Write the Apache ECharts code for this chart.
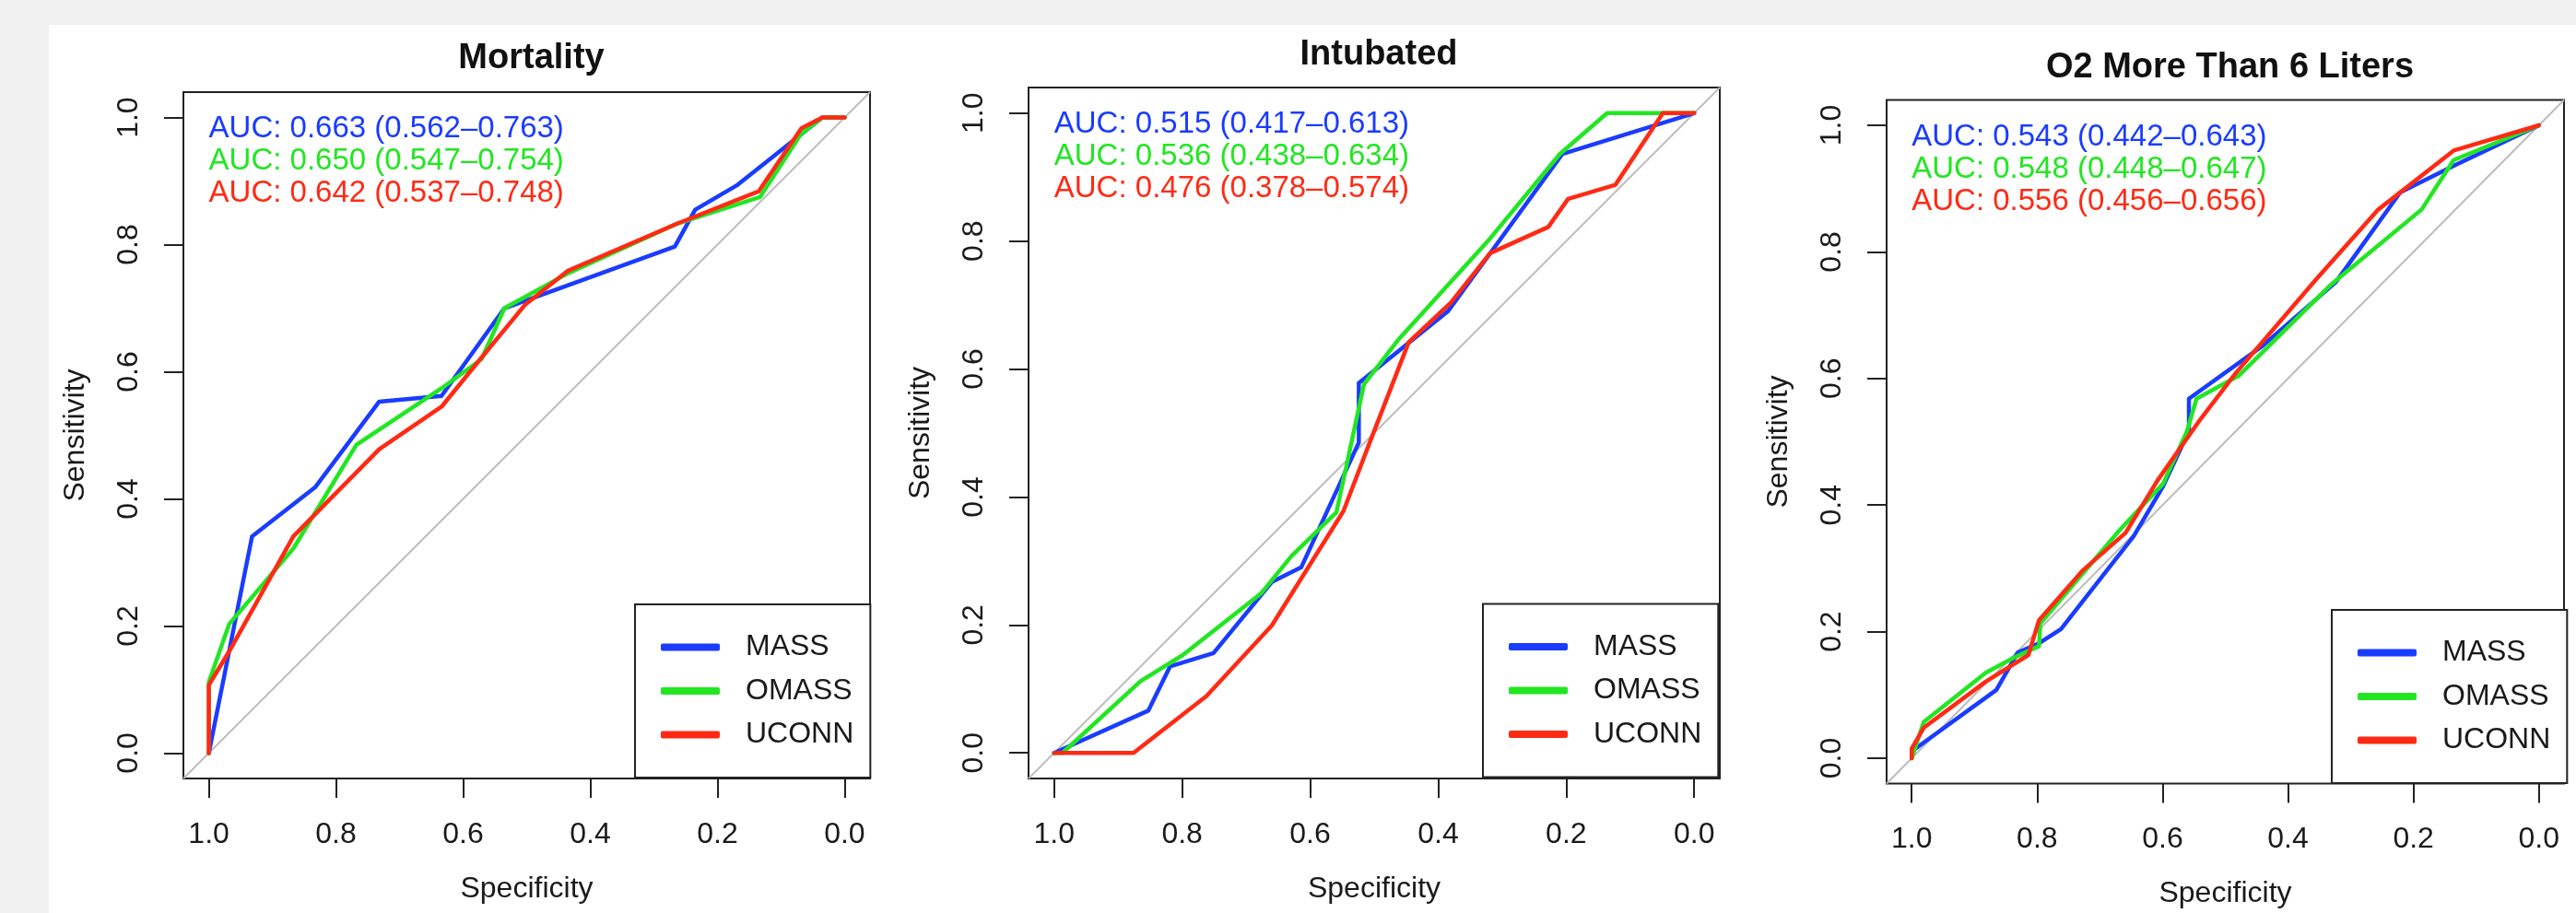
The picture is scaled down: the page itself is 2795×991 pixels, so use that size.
<!DOCTYPE html>
<html>
<head>
<meta charset="utf-8">
<script src="https://cdn.jsdelivr.net/npm/echarts@6/dist/echarts.min.js"></script>
<style>
html,body{margin:0;padding:0;background:#f0f0f0;overflow:hidden;width:2795px;height:991px;}
#panel{position:absolute;left:53px;top:27px;width:2742px;height:964px;background:#ffffff;}
#chart{position:absolute;left:0;top:0;width:2795px;height:991px;}
</style>
</head>
<body>
<div id="panel"></div>
<div id="chart"></div>
<script>
// ---------------- DATA ----------------
const specTicks = [0, 0.2, 0.4, 0.6, 0.8, 1.0];
const sensTicks = [0, 0.2, 0.4, 0.6, 0.8, 1.0];
const seriesNames = ['MASS', 'OMASS', 'UCONN'];
const panelTitles = ['Mortality', 'Intubated', 'O2 More Than 6 Liters'];
const xAxisTitle = 'Specificity';
const yAxisTitle = 'Sensitivity';

const aucMortality = ['AUC: 0.663 (0.562\u20130.763)', 'AUC: 0.650 (0.547\u20130.754)', 'AUC: 0.642 (0.537\u20130.748)'];
const aucIntubated = ['AUC: 0.515 (0.417\u20130.613)', 'AUC: 0.536 (0.438\u20130.634)', 'AUC: 0.476 (0.378\u20130.574)'];
const aucO2 = ['AUC: 0.543 (0.442\u20130.643)', 'AUC: 0.548 (0.448\u20130.647)', 'AUC: 0.556 (0.456\u20130.656)'];

// [specificity, sensitivity]
const mortalityMASS = [[1,0],[0.932,0.341],[0.833,0.418],[0.732,0.553],[0.634,0.562],[0.535,0.700],[0.267,0.797],[0.235,0.855],[0.170,0.893],[0.035,1],[0,1]];
const mortalityOMASS = [[1,0],[1,0.112],[0.968,0.203],[0.867,0.322],[0.768,0.485],[0.634,0.574],[0.571,0.620],[0.535,0.700],[0.435,0.755],[0.266,0.832],[0.133,0.875],[0.068,0.975],[0.035,1],[0,1]];
const mortalityUCONN = [[1,0],[1,0.107],[0.968,0.160],[0.867,0.341],[0.732,0.478],[0.634,0.545],[0.573,0.620],[0.503,0.705],[0.435,0.759],[0.266,0.832],[0.135,0.884],[0.068,0.983],[0.035,1],[0,1]];

const intubatedMASS = [[1,0],[0.853,0.066],[0.819,0.135],[0.751,0.156],[0.660,0.267],[0.614,0.290],[0.524,0.485],[0.524,0.578],[0.385,0.690],[0.206,0.936],[0,1]];
const intubatedOMASS = [[1,0],[0.987,0],[0.865,0.112],[0.799,0.153],[0.677,0.249],[0.629,0.308],[0.559,0.376],[0.516,0.576],[0.463,0.645],[0.319,0.804],[0.210,0.936],[0.136,1],[0,1]];
const intubatedUCONN = [[1,0],[0.876,0],[0.762,0.089],[0.660,0.199],[0.548,0.378],[0.507,0.485],[0.446,0.642],[0.380,0.704],[0.319,0.781],[0.228,0.822],[0.197,0.866],[0.123,0.888],[0.049,1],[0,1]];

const o2MASS = [[1,0],[1,0.011],[0.865,0.108],[0.831,0.167],[0.798,0.181],[0.762,0.204],[0.646,0.351],[0.599,0.430],[0.558,0.517],[0.558,0.568],[0.440,0.652],[0.324,0.752],[0.221,0.894],[0.136,0.936],[0,1]];
const o2OMASS = [[1,0],[0.981,0.057],[0.882,0.135],[0.839,0.158],[0.797,0.177],[0.795,0.213],[0.668,0.361],[0.599,0.434],[0.561,0.517],[0.546,0.568],[0.479,0.604],[0.333,0.747],[0.187,0.867],[0.136,0.945],[0,1]];
const o2UCONN = [[1,0],[1,0.015],[0.981,0.048],[0.882,0.121],[0.814,0.163],[0.797,0.218],[0.728,0.296],[0.659,0.356],[0.608,0.439],[0.543,0.531],[0.483,0.609],[0.354,0.758],[0.256,0.867],[0.136,0.960],[0,1]];

const chanceLine = [[1.04,-0.04],[-0.04,1.04]];
// ---------------------------------------

const panelSeries = [
  [mortalityMASS, mortalityOMASS, mortalityUCONN],
  [intubatedMASS, intubatedOMASS, intubatedUCONN],
  [o2MASS, o2OMASS, o2UCONN]
];
const panelAuc = [aucMortality, aucIntubated, aucO2];

const colors = ['#1a3cff', '#22e622', '#ff2a14'];
const FONT = '"Liberation Sans", Arial, Helvetica, sans-serif';
const INK = '#1a1a1a';

// layout (pixels)
const boxes = [
  {left:199, top:100, width:745, height:745, titleY:60, legL:689, legT:656},
  {left:1116, top:95, width:750, height:750, titleY:56, legL:1609, legT:655.5},
  {left:2047, top:108.5, width:735, height:742, titleY:69.5, legL:2530, legT:662}
];

const chart = echarts.init(document.getElementById('chart'), null, {renderer:'canvas'});

const grid = [], xAxis = [], yAxis = [], series = [], title = [], legend = [], graphic = [];
boxes.forEach((b, i) => {
  grid.push({left:b.left, top:b.top, width:b.width, height:b.height, show:true,
    borderColor:'#222', borderWidth:2, backgroundColor:'transparent', containLabel:false, outerBoundsMode:'none'});
  xAxis.push({gridIndex:i, type:'value', min:-0.04, max:1.04, inverse:true, position:'bottom',
    axisLine:{show:false, onZero:false}, splitLine:{show:false},
    axisTick:{show:true, customValues:specTicks, length:21, inside:false, lineStyle:{color:'#222', width:2}},
    axisLabel:{show:true, customValues:specTicks, formatter:v=>Number(v).toFixed(1), margin:45,
      fontSize:32, color:INK, fontFamily:FONT},
    name:xAxisTitle, nameLocation:'middle', nameGap:104, nameMoveOverlap:false,
    nameTextStyle:{fontSize:32, color:INK, fontFamily:FONT}});
  yAxis.push({gridIndex:i, type:'value', min:-0.04, max:1.04, position:'left',
    axisLine:{show:false, onZero:false}, splitLine:{show:false},
    axisTick:{show:true, customValues:sensTicks, length:21, inside:false, lineStyle:{color:'#222', width:2}},
    axisLabel:{show:true, customValues:sensTicks, formatter:v=>Number(v).toFixed(1), rotate:90, margin:43,
      fontSize:32, color:INK, fontFamily:FONT},
    name:yAxisTitle, nameLocation:'middle', nameGap:101, nameMoveOverlap:false,
    nameTextStyle:{fontSize:32, color:INK, fontFamily:FONT}});
  series.push({type:'line', xAxisIndex:i, yAxisIndex:i, data:chanceLine, showSymbol:false, silent:true,
    lineStyle:{color:'#bdbdbd', width:2}, z:1, animation:false});
  panelSeries[i].forEach((d, k) => {
    series.push({type:'line', name:seriesNames[k], xAxisIndex:i, yAxisIndex:i, data:d,
      showSymbol:false, symbol:'none', lineStyle:{color:colors[k], width:4.5, join:'round', cap:'round'},
      itemStyle:{color:colors[k]}, z:2+k, animation:false});
  });
  title.push({text:panelTitles[i], left:b.left + b.width/2, top:b.titleY - 20, textAlign:'center',
    textStyle:{fontSize:38, fontWeight:'bold', color:'#111', fontFamily:FONT}});
  legend.push({data:seriesNames, orient:'vertical', left:b.legL, top:b.legT,
    padding:[30.5, 18, 30.5, 28], itemWidth:64, itemHeight:8, itemGap:15.5, icon:'roundRect',
    borderColor:'#222', borderWidth:2, borderRadius:0, backgroundColor:'#ffffff',
    selectedMode:false, z:10,
    textStyle:{fontSize:32, lineHeight:32, color:INK, fontFamily:FONT, padding:[0,0,0,23]}});
  const ax = b.left + b.width * 0.04 / 1.08;
  const ay = b.top + 40;
  panelAuc[i].forEach((t, k) => {
    graphic.push({type:'text', x:ax, y:ay + 35*k, z:20,
      style:{text:t, fill:colors[k], fontSize:33, fontFamily:FONT, verticalAlign:'middle', align:'left'}});
  });
});

chart.setOption({
  animation:false,
  backgroundColor:'transparent',
  title, grid, xAxis, yAxis, series, legend, graphic
});
</script>
</body>
</html>
